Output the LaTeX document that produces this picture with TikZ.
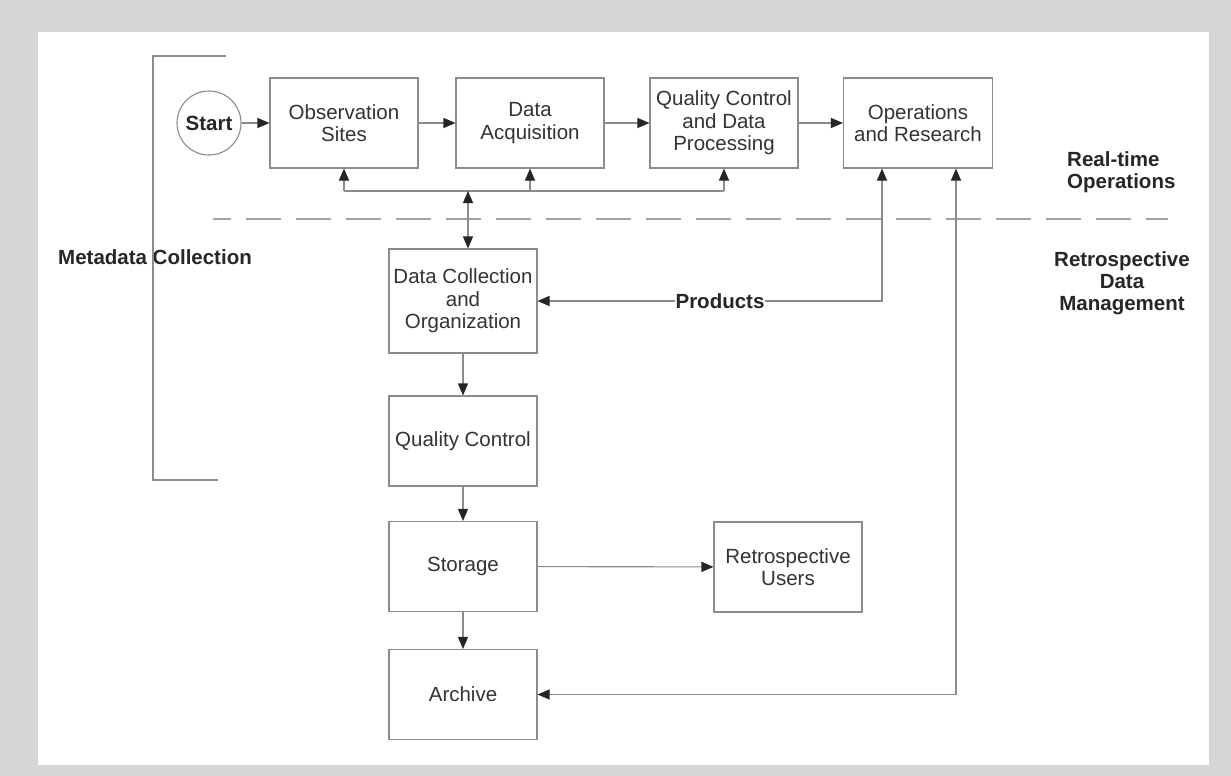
\documentclass[tikz,border=0pt]{standalone}
\usepackage{fontspec}
\setmainfont{Liberation Sans}
\usetikzlibrary{arrows.meta}
\definecolor{bggray}{HTML}{D5D6D8}
\definecolor{lg}{HTML}{8C8C8C}
\definecolor{tg}{HTML}{333333}
\tikzset{
  tip/.tip={Triangle[length=12pt,width=10pt,color=black!85]},
  box/.style={draw=lg, line width=1.1pt, inner sep=0pt, align=center, text=tg,
    font=\fontsize{20.5}{22.5}\selectfont, minimum width=148pt, minimum height=90pt},
  conn/.style={draw=lg, line width=1.1pt},
  arr/.style={conn, -tip},
  darr/.style={conn, tip-tip},
  lab/.style={inner sep=0pt, text=black!85, font=\bfseries\fontsize{20.5}{22}\selectfont},
}
\begin{document}
\begin{tikzpicture}[x=1pt,y=-1pt]
\useasboundingbox (0,0) rectangle (1231,776);
\fill[bggray] (0,0) rectangle (1231,776);
\fill[white] (38,32) rectangle (1209,765);

% top row
\node[circle, draw=lg, line width=1.1pt, minimum size=64pt, inner sep=0pt, lab] (start) at (209,123) {Start};
\node[box] (obs) at (344,123) {Observation\\Sites};
\node[box] (da) at (530,123) {Data\\Acquisition};
\node[box] (qcdp) at (724,123) {Quality Control\\and Data\\Processing};
\node[box, minimum width=149pt] (ops) at (918,123) {Operations\\and Research};

% column
\node[box, minimum height=104pt] (dco) at (463,301) {Data Collection\\and\\Organization};
\node[box] (qc) at (463,441) {Quality Control};
\node[box] (sto) at (463,566.5) {Storage};
\node[box] (ru) at (788,567) {Retrospective\\Users};
\node[box] (arc) at (463,694.5) {Archive};

% labels
\node[lab, anchor=west] (meta) at (58,257) {Metadata Collection};
\node[lab, align=left, anchor=west] (rt) at (1067,172) {Real-time\\Operations};
\node[lab, align=center] (rdm) at (1122,283) {Retrospective\\Data\\Management};

% bracket
\coordinate (bt) at (226,56);
\coordinate (bb) at (218,480);
\draw[conn] (bt) -- (153,56) -- (153,480) -- (bb);

% dashed separator
\coordinate (d1) at (213,219);
\coordinate (d2) at (1168,219);
\draw[draw=lg!80, line width=1.2pt, dash pattern=on 35pt off 15pt, dash phase=17pt] (d1) -- (d2);

% flow arrows
\draw[arr] (start) -- (obs);
\draw[arr] (obs) -- (da);
\draw[arr] (da) -- (qcdp);
\draw[arr] (qcdp) -- (ops);

% feedback bus
\coordinate (b1) at (344,191);
\coordinate (b2) at (530,191);
\coordinate (b3) at (724,191);
\coordinate (b4) at (468,191);
\draw[conn] (b1) -- (b3);
\draw[arr] (b1) -- (obs.south);
\draw[arr] (b2) -- (da.south);
\draw[arr] (b3) -- (qcdp.south);
\draw[darr] (b4) -- (b4 |- dco.north);

% products
\coordinate (p1) at (882,301);
\draw[darr] (ops.south -| p1) -- (p1) -- (dco.east);
\node[lab, fill=white, inner xsep=1pt, inner ysep=2pt] (prod) at (720,301) {Products};

% archive link
\coordinate (a1) at (956,694.5);
\draw[darr] (ops.south -| a1) -- (a1) -- (arc.east);

% column arrows
\draw[arr] (dco) -- (qc);
\draw[arr] (qc) -- (sto);
\draw[arr] (sto) -- (arc);
\draw[arr] (sto) -- (ru);
\end{tikzpicture}
\end{document}
